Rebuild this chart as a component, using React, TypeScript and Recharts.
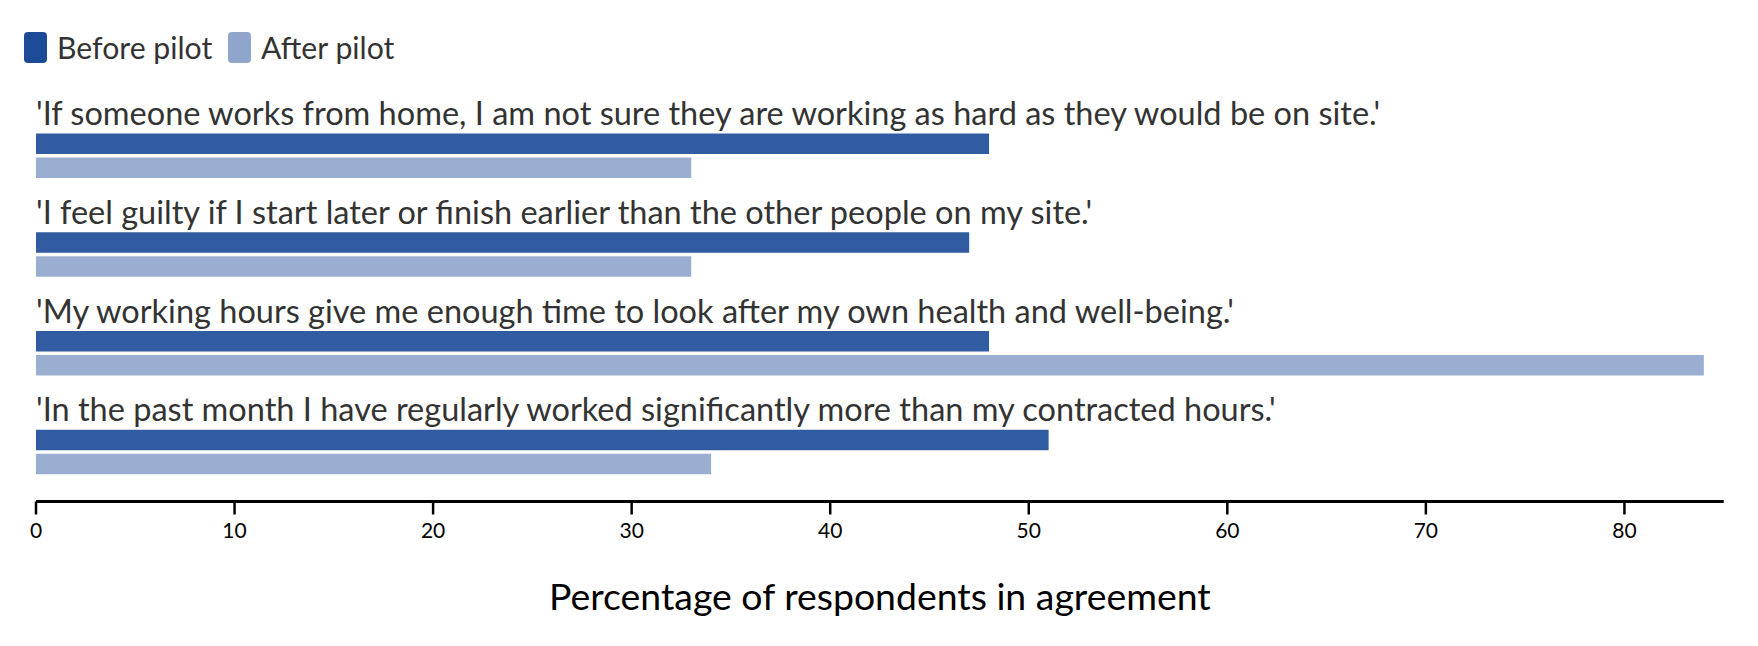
import React from 'react';
import { BarChart, Bar, XAxis, YAxis, Legend, LabelList } from 'recharts';

const statements = [
  "'If someone works from home, I am not sure they are working as hard as they would be on site.'",
  "'I feel guilty if I start later or finish earlier than the other people on my site.'",
  "'My working hours give me enough time to look after my own health and well-being.'",
  "'In the past month I have regularly worked significantly more than my contracted hours.'",
];
const beforePilot = [48, 47, 48, 51];
const afterPilot = [33, 33, 84, 34];
const xTicks = [0, 10, 20, 30, 40, 50, 60, 70, 80];

const seriesNames = ['Before pilot', 'After pilot'];
const seriesColors = ['#1c4a97', '#8fa5cc'];

const FONT = 'Lato, sans-serif';

const data = statements.map((statement, i) => ({
  statement,
  before: beforePilot[i],
  after: afterPilot[i],
}));

// statement text sits just above the first bar of each group
const StatementLabel = (props: any) => {
  const { x, y, value } = props;
  return (
    <text x={x} y={y - 8.5} textAnchor="start" fill="#333" fontSize={32.5} fontFamily={FONT}>
      {value}
    </text>
  );
};

const LegendContent = () => (
  <svg width={600} height={90} style={{ display: 'block' }}>
    {seriesNames.map((name, i) => {
      const x = i === 0 ? 24 : 228;
      return (
        <g key={name}>
          <rect x={x} y={32} width={23} height={31} rx={4} ry={4} fill={seriesColors[i]} />
          <text x={x + 33} y={59} fill="#333" fontSize={30.2} fontFamily={FONT}>
            {name}
          </text>
        </g>
      );
    })}
  </svg>
);

const App: React.FC = () => {
  return (
    <div style={{ width: 1758, height: 646, background: '#fff' }}>
      <style>{'body{margin:0}'}</style>
      <BarChart
        width={1758}
        height={646}
        data={data}
        layout="vertical"
        margin={{ top: 106.5, right: 34.3, bottom: 34.5, left: 36 }}
        barSize={20.5}
        barGap={3.5}
      >
        <Legend
          verticalAlign="middle"
          align="center"
          wrapperStyle={{ top: 0, left: 0, width: 600, height: 90 }}
          content={<LegendContent />}
        />
        <XAxis
          type="number"
          domain={[0, 85]}
          ticks={xTicks}
          height={110}
          axisLine={{ stroke: '#000', strokeWidth: 3 }}
          tickLine={{ stroke: '#000', strokeWidth: 2.5 }}
          tickSize={13}
          tickMargin={9}
          tick={{ fill: '#000', fontSize: 21, fontFamily: FONT }}
          label={{
            value: 'Percentage of respondents in agreement',
            position: 'insideBottom',
            offset: 2,
            fill: '#000',
            fontSize: 37.4,
            fontFamily: FONT,
          }}
        />
        <YAxis type="category" dataKey="statement" hide />
        <Bar dataKey="before" name={seriesNames[0]} fill={seriesColors[0]} fillOpacity={0.9} isAnimationActive={false}>
          <LabelList dataKey="statement" content={<StatementLabel />} />
        </Bar>
        <Bar dataKey="after" name={seriesNames[1]} fill={seriesColors[1]} fillOpacity={0.9} isAnimationActive={false} />
      </BarChart>
    </div>
  );
};

export default App;
